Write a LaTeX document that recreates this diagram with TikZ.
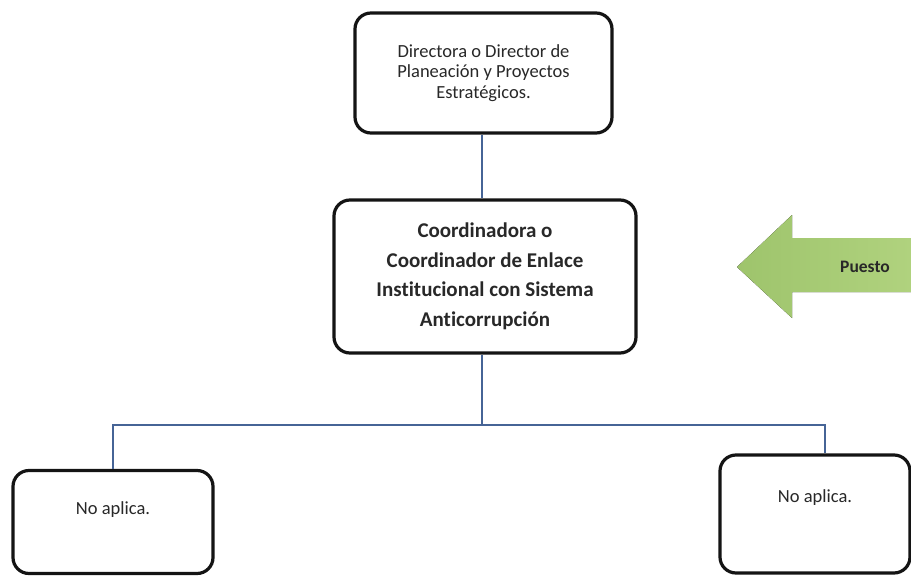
\documentclass[tikz,border=0pt]{standalone}
\usepackage{fontspec}
\setmainfont{Carlito}[Ligatures=CommonOff]
\usetikzlibrary{calc}
\definecolor{boxborder}{RGB}{20,20,20}
\definecolor{linkcolor}{RGB}{70,100,150}
\definecolor{arrowleft}{RGB}{158,196,108}
\definecolor{arrowright}{RGB}{176,210,126}
\definecolor{txtcol}{RGB}{40,40,40}
\tikzset{
  orgbox/.style   = {draw=boxborder, line width=3.2pt, rounded corners=16pt,
                     fill=white, align=center, inner sep=0pt, text=txtcol},
  conector/.style = {draw=linkcolor, line width=1.3pt},
  flecha/.style   = {left color=arrowleft, right color=arrowright, draw=none},
}

\begin{document}
\begin{tikzpicture}[x=1pt, y=-1pt]

  % ── page frame ──
  \useasboundingbox (0,0) rectangle (911,576);

  % ──────────────────────────────────────────────
  %  BOXES
  % ──────────────────────────────────────────────
  \node[orgbox, minimum width=257pt, minimum height=120pt,
        font=\fontsize{18.5}{20.5}\selectfont]
    (dirplan) at (483.5,73)
    {Directora o Director de\\Planeación y Proyectos\\Estratégicos.};

  \node[orgbox, minimum width=302pt, minimum height=153pt,
        font=\fontsize{21}{29.5}\selectfont\bfseries]
    (coordenlace) at (485,276.5)
    {Coordinadora o\\Coordinador de Enlace\\Institucional con Sistema\\Anticorrupción};

  \node[orgbox, minimum width=200pt, minimum height=103pt,
        font=\fontsize{18.5}{20}\selectfont, text depth=27pt]
    (noaplicaizq) at (113,522) {No aplica.};

  \node[orgbox, minimum width=190pt, minimum height=118pt,
        font=\fontsize{18.5}{20}\selectfont, text depth=35pt]
    (noaplicader) at (815,514) {No aplica.};

  % ──────────────────────────────────────────────
  %  ARROW "Puesto"
  % ──────────────────────────────────────────────
  \fill[flecha] (737,267) -- (792,215) -- (792,238) -- (911,238)
    -- (911,292) -- (792,292) -- (792,318) -- cycle;
  \node[font=\fontsize{17.5}{20}\selectfont\bfseries, text=txtcol]
    (puesto) at (865,267) {Puesto};

  % ──────────────────────────────────────────────
  %  CONNECTORS
  % ──────────────────────────────────────────────
  \coordinate (ramal) at (482,425);

  \draw[conector] (dirplan.south -| ramal) -- (coordenlace.north -| ramal);
  \draw[conector] (coordenlace.south -| ramal) -- (ramal);
  \draw[conector] (ramal) -| (noaplicaizq.north);
  \draw[conector] (ramal) -| ([xshift=10pt]noaplicader.north);

\end{tikzpicture}
\end{document}
